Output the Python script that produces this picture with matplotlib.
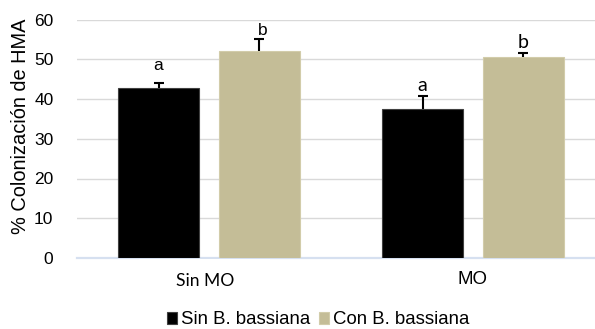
import matplotlib
matplotlib.use("Agg")
import matplotlib.pyplot as plt
from matplotlib.patches import Rectangle
import numpy as np

plt.rcParams['font.family'] = ['Liberation Sans', 'DejaVu Sans']

# ---- data ------------------------------------------------------------
groups = ['Sin MO', 'MO']
series = ['Sin B. bassiana', 'Con B. bassiana']
sin_bb = [42.7, 37.5]
con_bb = [52.1, 50.6]
sin_err = [1.4, 3.3]
con_err = [3.1, 1.0]
sin_letters = ['a', 'a']
con_letters = ['b', 'b']

W, H = 595, 329
fig = plt.figure(figsize=(W / 100, H / 100), dpi=100)
ax = fig.add_axes([77 / W, 1 - 258 / H, 1 - 77 / W, (258 - 19.5) / H])

x = np.arange(len(groups))
off, bw = 0.191, 0.307
ax.bar(x - off, sin_bb, bw, color='black', edgecolor='#404040', lw=0.8,
       label=series[0], zorder=3)
ax.bar(x + off, con_bb, bw, color='#C4BD97', edgecolor='#d2ccaa', lw=0.8,
       label=series[1], zorder=3)

# plus-only error bars: stem from the bar top, cap only at the upper end
for xs, ys, es in ((x - off, sin_bb, sin_err), (x + off, con_bb, con_err)):
    ys, es = np.array(ys), np.array(es)
    ax.vlines(xs, ys, ys + es, color='black', lw=1.5, zorder=4)
    ax.plot(xs, ys + es, ls='none', marker='_', ms=7, mew=1.5,
            color='black', zorder=4)

# significance letters, hand-placed as in the original (gap above the cap)
fams = [['Liberation Sans'], ['Lato', 'DejaVu Sans']]
sizes = [12.5, 14]
gap_sin = [3.3, 1.3]
gap_con = [1.0, 1.3]
for i in range(len(groups)):
    ax.text(x[i] - off, sin_bb[i] + sin_err[i] + gap_sin[i], sin_letters[i],
            ha='center', va='baseline', fontsize=sizes[i], family=fams[i])
    ax.text(x[i] + off + (0.012 if i == 0 else 0), con_bb[i] + con_err[i] + gap_con[i],
            con_letters[i], ha='center', va='baseline', fontsize=sizes[i],
            family=fams[i])

ax.set_xlim(-0.5, 1.462)
ax.set_ylim(0, 60)
ax.set_yticks(range(0, 61, 10))
ax.tick_params(axis='y', length=0, pad=17, labelsize=12.5)
ax.set_xticks([])
ax.grid(axis='y', color='#d9d9d9', lw=1.0, zorder=0)
for s in ax.spines.values():
    s.set_visible(False)
ax.axhline(0, color='#d6e0f0', lw=1.6, zorder=2, clip_on=False)
fig.text(21 / W, 1 - 126 / H, '% Colonización de HMA', rotation=90,
         ha='center', va='center', fontsize=14.4)

# white box over the axis line behind the first category label
fig.patches.append(Rectangle((139 / W, 1 - 290 / H), 131 / W, 31 / H,
                             transform=fig.transFigure, facecolor='white',
                             edgecolor='none', zorder=5))
fig.text(205 / W, 1 - 281 / H, groups[0], ha='center', va='center',
         fontsize=12.6, family=['Lato', 'DejaVu Sans'], zorder=6)
fig.text(473 / W, 1 - 280 / H, groups[1], ha='center', va='center',
         fontsize=13.4)

fig.legend(loc='center', bbox_to_anchor=(318 / W, 1 - 320 / H), ncol=2,
           frameon=False, fontsize=13.4, handlelength=0.55, handleheight=0.55,
           handletextpad=0.2, columnspacing=0.45)

fig.savefig('out.png', dpi=100)
